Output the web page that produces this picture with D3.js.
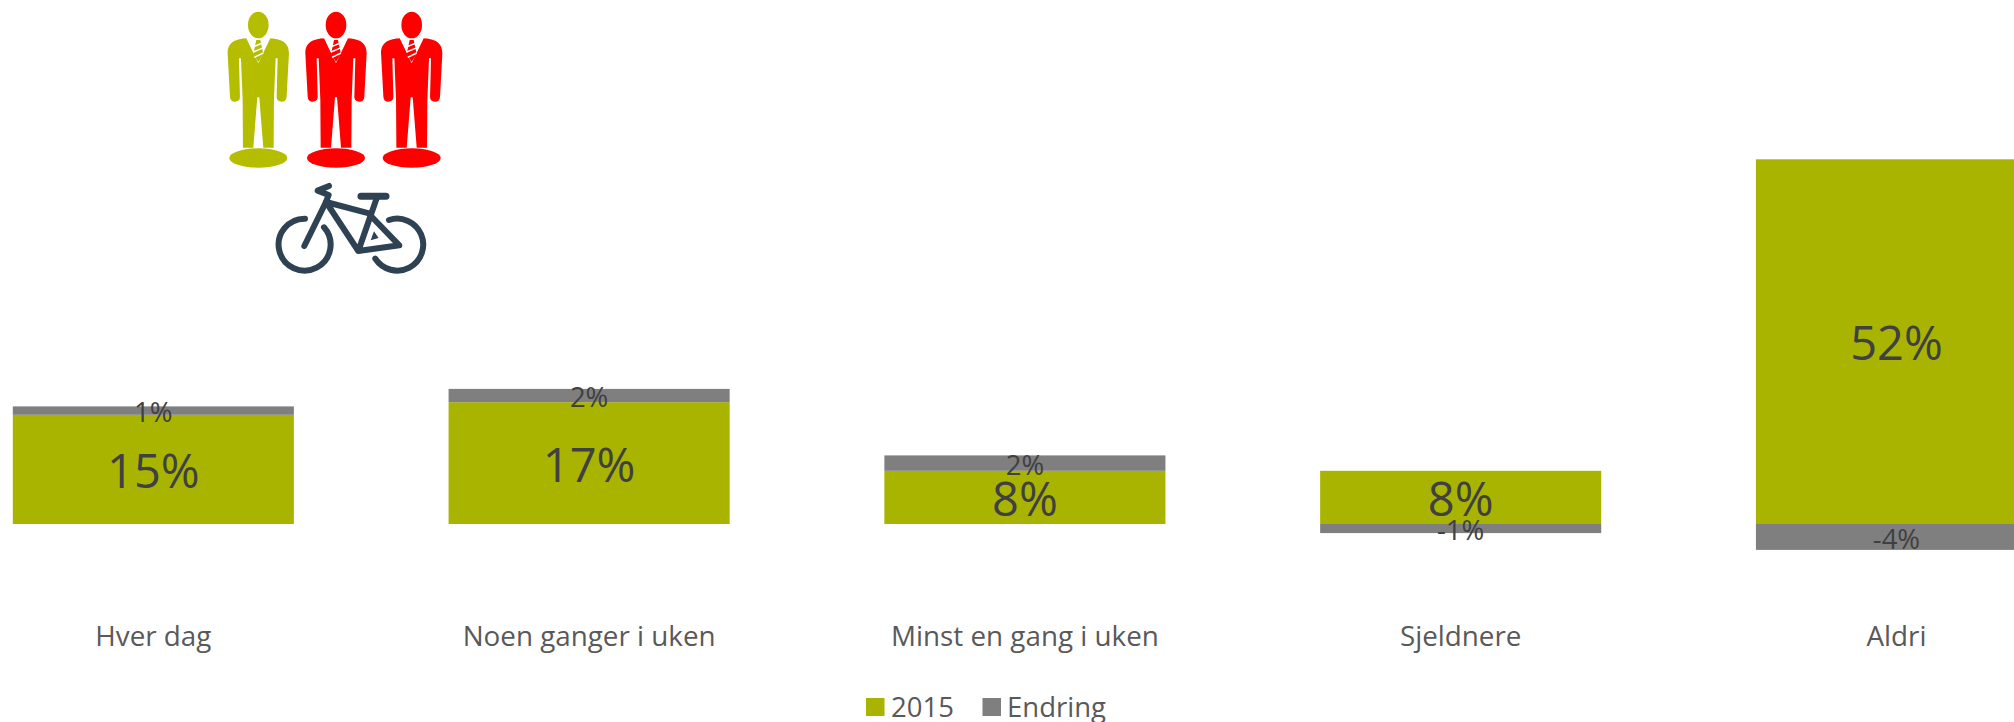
<!DOCTYPE html>
<html>
<head>
<meta charset="utf-8">
<script src="https://cdn.jsdelivr.net/npm/d3@7/dist/d3.min.js"></script>
<style>
html,body{margin:0;padding:0;background:#fff;overflow:hidden}
svg{display:block}
text{font-family:"Open Sans",sans-serif}
</style>
</head>
<body>
<svg id="chart" width="2014" height="722"></svg>
<script>
const categories = ["Hver dag","Noen ganger i uken","Minst en gang i uken","Sjeldnere","Aldri"];
const values2015 = [15.6,17.4,7.6,7.6,52.1];
const valuesEndring = [1.2,1.9,2.2,-1.3,-3.7];
const labels2015 = ["15%","17%","8%","8%","52%"];
const labelsEndring = ["1%","2%","2%","-1%","-4%"];
const seriesNames = ["2015","Endring"];
const seriesColors = ["#A9B400","#7F7F7F"];
const personColors = ["#B5BD00","#FF0000","#FF0000"];

const svg = d3.select("#chart");
const x = d3.scaleBand().domain(categories).range([12.8,2037]).paddingInner(0.355).paddingOuter(0);
const y = d3.scaleLinear().domain([0,52.1]).range([524,159.3]);

const rows = categories.map((c,i)=>({cat:c,"2015":values2015[i],"Endring":valuesEndring[i]}));
const stacked = d3.stack().keys(seriesNames).offset(d3.stackOffsetDiverging)(rows);

svg.append("g").selectAll("g").data(stacked).join("g")
  .attr("fill",(d,i)=>seriesColors[i])
  .selectAll("rect").data(d=>d).join("rect")
  .attr("x",d=>x(d.data.cat))
  .attr("width",x.bandwidth())
  .attr("y",d=>y(Math.max(d[0],d[1])))
  .attr("height",d=>Math.abs(y(d[0])-y(d[1])));

const labelSets = [labels2015,labelsEndring];
const labelSizes = [47,27.5];
stacked.forEach((s,si)=>{
  svg.append("g").selectAll("text").data(s).join("text")
    .attr("x",d=>x(d.data.cat)+x.bandwidth()/2)
    .attr("y",d=>(y(d[0])+y(d[1]))/2+2)
    .attr("dy","0.355em")
    .attr("text-anchor","middle")
    .attr("font-size",labelSizes[si])
    .attr("fill","#404040")
    .text((d,i)=>labelSets[si][i]);
});

const axis = d3.axisBottom(x).tickSize(0).tickPadding(0);
const ax = svg.append("g").attr("transform","translate(0,636)").call(axis);
ax.select(".domain").remove();
ax.selectAll("text").attr("y",0).attr("dy","0.355em").attr("font-size",27.8).attr("font-family",'"Open Sans",sans-serif').attr("fill","#595959");

/* legend */
const legendSwatchX = [866,982.5];
const legendTextX = [891,1007];
const legend = svg.append("g").selectAll("g").data(seriesNames).join("g");
legend.append("rect").attr("x",(d,i)=>legendSwatchX[i]).attr("y",698).attr("width",18.5).attr("height",18).attr("fill",(d,i)=>seriesColors[i]);
legend.append("text").attr("x",(d,i)=>legendTextX[i]).attr("y",716.5).attr("font-size",27.5).attr("fill","#595959").text(d=>d);

/* people icons */
const personBody = "M-36,115 L0,190 L36,115 C65,117 92,125 92,160 L85,290 Q84,305 70,305 Q56,305 55,292 L58,175 L52,175 L47,300 L46,443 L15,443 L3,292 L-3,292 L-15,443 L-46,443 L-47,300 L-52,175 L-58,175 L-55,292 Q-56,305 -70,305 Q-84,305 -85,290 L-92,160 C-92,125 -65,117 -36,115 Z";
const personX = [258.3,336,411.7];
const people = svg.append("g").selectAll("g").data(personColors).join("g")
  .attr("transform",(d,i)=>`translate(${personX[i]},0) scale(0.3333)`)
  .attr("fill",d=>d);
people.append("path").attr("d",personBody);
people.append("ellipse").attr("cx",0).attr("cy",75).attr("rx",31).attr("ry",40);
people.append("ellipse").attr("cx",0).attr("cy",474).attr("rx",87).attr("ry",29);
people.append("path").attr("d","M-6,120 L6,120 L15,162 L0,186 L-15,162 Z");
people.append("path").attr("d","M-13,140 L13,129 M-15,156 L16,143 M-12,172 L15,159").attr("stroke","#fff").attr("stroke-width",4.5).attr("fill","none");

/* bicycle icon */
const bike = svg.append("g").attr("transform","translate(200,0) scale(0.3333)")
  .attr("fill","none").attr("stroke","#2F4254").attr("stroke-width",18).attr("stroke-linecap","round").attr("stroke-linejoin","round");
bike.append("path").attr("d","M315,656 A78,78 0 1 0 372,682");
bike.append("path").attr("d","M567,660 A78,78 0 1 1 526,776");
bike.append("path").attr("d","M313,738 L378,606 L386,585 L353,572 L387,558");
bike.append("path").attr("d","M378,606 L510,641 M378,606 L475,753 L598,736 L510,645 M530,595 L475,753");
bike.append("path").attr("d","M483,589 L558,589").attr("stroke-width",21);
bike.append("path").attr("d","M512,721 L536,714 L522,694 Z").attr("fill","#2F4254").attr("stroke","none");
</script>
</body>
</html>
